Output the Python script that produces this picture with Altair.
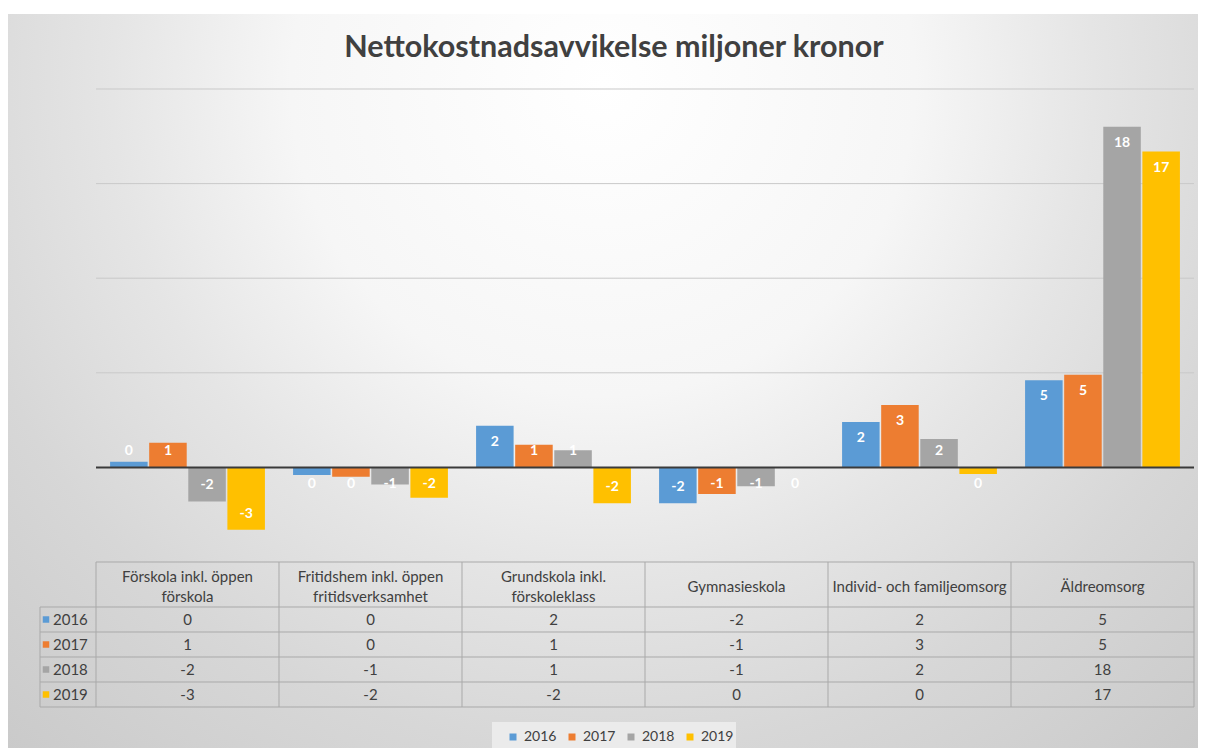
import altair as alt
import pandas as pd

# ---------------- data ----------------
categories = [
    "Förskola inkl. öppen förskola",
    "Fritidshem inkl. öppen fritidsverksamhet",
    "Grundskola inkl. förskoleklass",
    "Gymnasieskola",
    "Individ- och familjeomsorg",
    "Äldreomsorg",
]
header_labels = [
    "Förskola inkl. öppen\nförskola",
    "Fritidshem inkl. öppen\nfritidsverksamhet",
    "Grundskola inkl.\nförskoleklass",
    "Gymnasieskola",
    "Individ- och familjeomsorg",
    "Äldreomsorg",
]
years = ["2016", "2017", "2018", "2019"]
v2016 = [0.3, -0.4, 2.2, -1.9, 2.4, 4.6]
v2017 = [1.3, -0.5, 1.2, -1.4, 3.3, 4.9]
v2018 = [-1.8, -0.9, 0.9, -1.0, 1.5, 18.0]
v2019 = [-3.3, -1.6, -1.9, -0.02, -0.35, 16.7]
grid_values = [5, 10, 15, 20]
colors = ["#5B9BD5", "#ED7D31", "#A5A5A5", "#FFC000"]
title_text = "Nettokostnadsavvikelse miljoner kronor"

rows = []
for yr, vals in zip(years, [v2016, v2017, v2018, v2019]):
    for c, v in zip(categories, vals):
        rows.append({"cat": c, "year": yr, "value": v})
df = pd.DataFrame(rows)
cats_df = pd.DataFrame({"cat": categories, "header": header_labels})
years_df = pd.DataFrame({"year": years})
grid_df = pd.DataFrame({"g": grid_values})
one = pd.DataFrame({"k": [0]})

# ---------------- layout / style ----------------
FONT = "Lato"
TXT = "#404040"
LINE = "#a9a9a9"
W, H = 1098, 473
PAD = {"left": 88, "top": 81, "right": 4, "bottom": 186}

xscale = alt.Scale(domain=categories, paddingInner=0, paddingOuter=0)
yscale = alt.Scale(domain=[-5, 20], nice=False, zero=False)
cscale = alt.Scale(domain=years, range=colors)
off_scale = alt.Scale(domain=years, paddingInner=0.04, paddingOuter=0.36)
legend = alt.Legend(
    title=None, orient="none", direction="horizontal", legendX=410, legendY=641,
    symbolType="square", symbolSize=49, symbolStrokeWidth=0, labelFont=FONT,
    labelFontSize=14, labelColor=TXT, labelOffset=4, columnPadding=8, padding=0,
)
X = alt.X("cat:N", scale=xscale, axis=None, sort=categories)
row_y = alt.Y("year:N", scale=alt.Scale(domain=years, range=[H + 45, H + 145],
                                          paddingInner=0, paddingOuter=0), axis=None)
row_y0 = alt.Y("year:N", scale=alt.Scale(domain=years, range=[H + 45, H + 145],
                                           paddingInner=0, paddingOuter=0), axis=None,
               bandPosition=0)

gradient = {
    "gradient": "radial", "x1": 0.5, "y1": 0.25, "r1": 0, "x2": 0.5, "y2": 0.25, "r2": 0.75,
    "stops": [
        {"offset": 0, "color": "#ffffff"},
        {"offset": 0.35, "color": "#f6f6f6"},
        {"offset": 0.55, "color": "#e5e5e5"},
        {"offset": 0.75, "color": "#d7d7d7"},
        {"offset": 1, "color": "#cacaca"},
    ],
}

bg = alt.Chart(one).mark_rect(color=gradient).encode(
    x=alt.value(-88), x2=alt.value(W + 4), y=alt.value(-75), y2=alt.value(H + 186)
)
legend_bg = alt.Chart(one).mark_rect(color="#ebebeb").encode(
    x=alt.value(396), x2=alt.value(640), y=alt.value(633), y2=alt.value(662)
)
title = alt.Chart(one).mark_text(
    text=title_text, font=FONT, fontSize=30.5, fontWeight="bold", color=TXT, baseline="middle"
).encode(x=alt.value(518), y=alt.value(-41))

grid = alt.Chart(grid_df).mark_rule(color="#c9c9c9", strokeWidth=1).encode(
    y=alt.Y("g:Q", scale=yscale, axis=None), x=alt.value(0), x2=alt.value(W)
)

bars = alt.Chart(df).mark_bar().encode(
    x=X,
    xOffset=alt.XOffset("year:N", scale=off_scale),
    y=alt.Y("value:Q", scale=yscale, axis=None),
    color=alt.Color("year:N", scale=cscale, legend=legend),
)

labels = alt.Chart(df).transform_calculate(
    lab="'' + round(datum.value)",
    ly="datum.value >= 0 ? max(datum.value - 0.85, 0.85) : min(datum.value + 0.85, -0.9)",
).mark_text(font=FONT, fontSize=14, fontWeight="bold", color="white", baseline="middle").encode(
    x=X,
    xOffset=alt.XOffset("year:N", scale=off_scale),
    y=alt.Y("ly:Q", scale=yscale, axis=None),
    text="lab:N",
)

zero = alt.Chart(one).mark_rule(color="#3a3a3a", strokeWidth=2).encode(
    y=alt.datum(0, scale=yscale), x=alt.value(0), x2=alt.value(W)
)

plot = alt.layer(grid, bars, labels, zero)

# ---------------- data table ----------------
table_vals = alt.Chart(df).transform_calculate(lab="'' + round(datum.value)").mark_text(
    font=FONT, fontSize=15, color=TXT, baseline="middle"
).encode(x=X, y=row_y, text="lab:N")

# header cell: centre the (one or two line) label block vertically in the header row
headers = alt.Chart(cats_df).transform_calculate(
    hy=f"{H + 25} - 10 * (length(split(datum.header, '\\n')) - 1)"
).mark_text(
    font=FONT, fontSize=15, color=TXT, baseline="middle", lineBreak="\n", lineHeight=20
).encode(x=X, y=alt.Y("hy:Q", scale=None, axis=None), text="header:N")

keys = alt.Chart(years_df).mark_point(shape="square", filled=True, size=42, opacity=1).encode(
    x=alt.value(-50), y=row_y, color=alt.Color("year:N", scale=cscale, legend=legend)
)
key_text = alt.Chart(years_df).mark_text(
    font=FONT, fontSize=15, color=TXT, align="left", baseline="middle"
).encode(x=alt.value(-43), y=row_y, text="year:N")

vlines = alt.Chart(cats_df).mark_rule(color=LINE).encode(
    x=alt.X("cat:N", scale=xscale, axis=None, sort=categories, bandPosition=0),
    y=alt.value(H), y2=alt.value(H + 145),
)
vright = alt.Chart(one).mark_rule(color=LINE).encode(
    x=alt.value(W), y=alt.value(H), y2=alt.value(H + 145)
)
vleft = alt.Chart(one).mark_rule(color=LINE).encode(
    x=alt.value(-56), y=alt.value(H + 45), y2=alt.value(H + 145)
)
htop = alt.Chart(one).mark_rule(color=LINE).encode(
    y=alt.value(H), x=alt.value(0), x2=alt.value(W)
)
hrows = alt.Chart(years_df).mark_rule(color=LINE).encode(
    y=row_y0, x=alt.value(-56), x2=alt.value(W)
)
hbottom = alt.Chart(one).mark_rule(color=LINE).encode(
    y=alt.value(H + 145), x=alt.value(-56), x2=alt.value(W)
)

table = alt.layer(vlines, vright, vleft, htop, hrows, hbottom, headers, table_vals, keys, key_text)

chart = alt.layer(
    alt.layer(bg, legend_bg, title), plot, table
).resolve_scale(y="independent").properties(
    width=W, height=H,
    autosize=alt.AutoSizeParams(type="none"),
    padding=PAD,
    background="white",
).configure_view(stroke=None)

chart.save("out.html", embed_options={"renderer": "svg", "actions": False})
